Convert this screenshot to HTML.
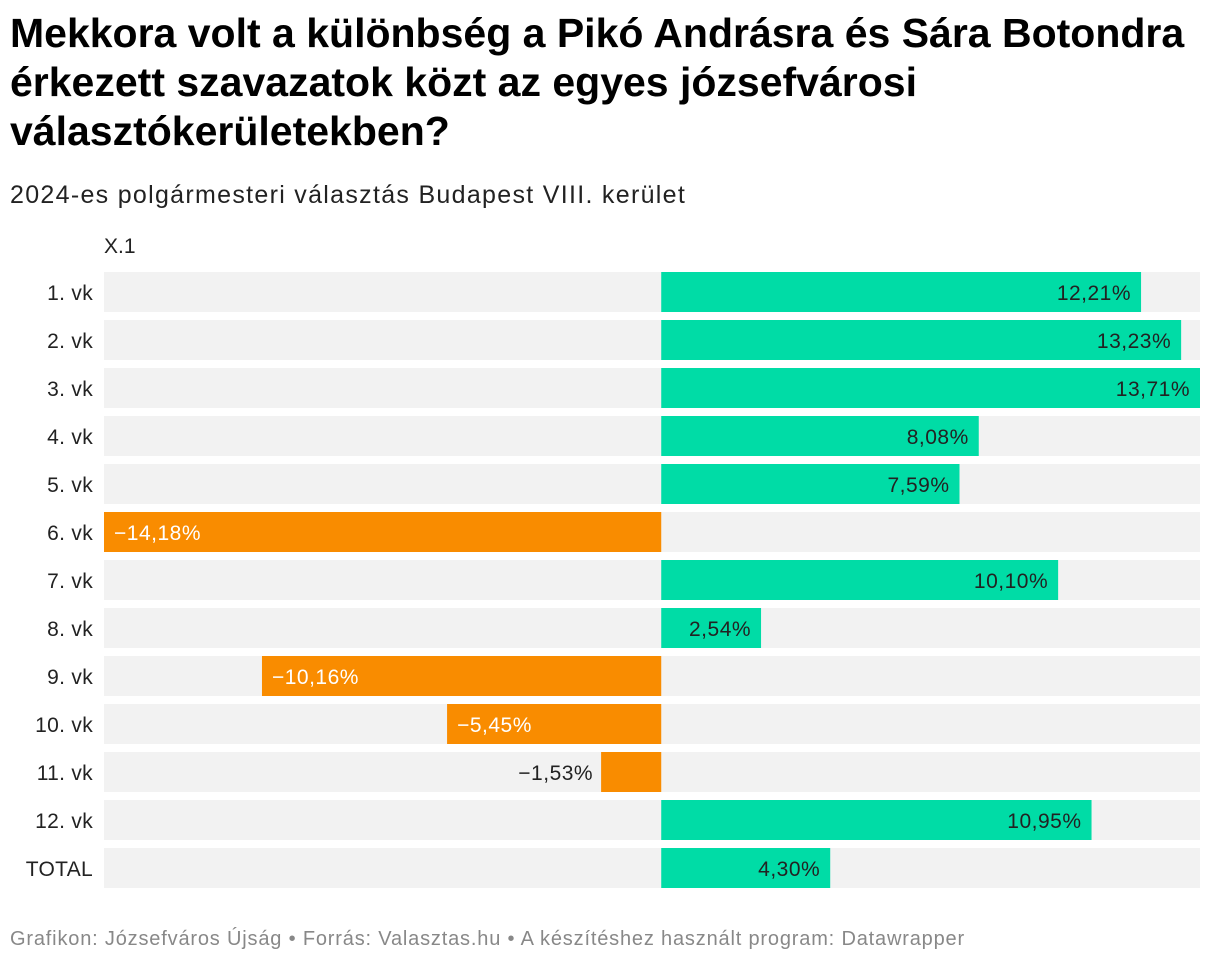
<!DOCTYPE html>
<html><head><meta charset="utf-8">
<style>
body{margin:0;background:#fff;font-family:"Liberation Sans",sans-serif;width:1220px;height:964px;overflow:hidden;position:relative}
#title{position:absolute;left:10px;top:9px;font-size:41px;font-weight:bold;line-height:49px;color:#000;width:1205px}
#sub{position:absolute;left:10px;top:181px;font-size:25px;letter-spacing:1.3px;color:#222}
#col{position:absolute;left:104px;top:235px;font-size:21px;color:#222}
#foot{position:absolute;left:10px;top:928px;font-size:20px;letter-spacing:0.82px;color:#888}
svg{position:absolute;left:0;top:0}
</style></head><body>
<div id="title">Mekkora volt a különbség a Pikó Andrásra és Sára Botondra érkezett szavazatok közt az egyes józsefvárosi választókerületekben?</div>
<div id="sub">2024-es polgármesteri választás Budapest VIII. kerület</div>
<div id="col">X.1</div>
<svg id="chart" width="1220" height="964"></svg>
<div id="foot">Grafikon: Józsefváros Újság • Forrás: Valasztas.hu • A készítéshez használt program: Datawrapper</div>
<script>
const categories=["1. vk","2. vk","3. vk","4. vk","5. vk","6. vk","7. vk","8. vk","9. vk","10. vk","11. vk","12. vk","TOTAL"];
const values=[12.21,13.23,13.71,8.08,7.59,-14.18,10.10,2.54,-10.16,-5.45,-1.53,10.95,4.30];
const labels=["12,21%","13,23%","13,71%","8,08%","7,59%","−14,18%","10,10%","2,54%","−10,16%","−5,45%","−1,53%","10,95%","4,30%"];
const NS="http://www.w3.org/2000/svg";
const svg=document.getElementById('chart');
const mn=Math.min(0,...values),mx=Math.max(0,...values);
const X0=104,X1=1200;
const x=v=>X0+(v-mn)/(mx-mn)*(X1-X0);
const y=i=>272+i*48;
function mk(t,a){const e=document.createElementNS(NS,t);for(const k in a)e.setAttribute(k,a[k]);svg.appendChild(e);return e;}
categories.forEach((c,i)=>{
  const bg=mk('rect',{x:X0,y:y(i),width:X1-X0,height:40,fill:'#f2f2f2'});
  
  
  const lt=mk('text',{x:93,y:y(i)+28,'text-anchor':'end','font-size':21,'letter-spacing':0.3,fill:'#222'});
  lt.textContent=c;
  
  
  const v=values[i],a=x(Math.min(0,v)),b=x(Math.max(0,v)),w=b-a;
  const r=mk('rect',{x:a,y:y(i),width:w,height:40,fill:v>=0?'#00dca6':'#f98c00'});
  
  
  let tx,anchor,col;
  if(w<75){ if(v>=0){tx=b+8;anchor='start';}else{tx=a-8;anchor='end';} col='#222'; }
  else if(v>=0){tx=b-10;anchor='end';col='#222';}
  else{tx=a+10;anchor='start';col='#fff';}
  const t=mk('text',{x:tx,y:y(i)+28,'text-anchor':anchor,'font-size':21,'letter-spacing':0.5,fill:col});
  t.textContent=labels[i];
  
  
});
</script>
</body></html>
